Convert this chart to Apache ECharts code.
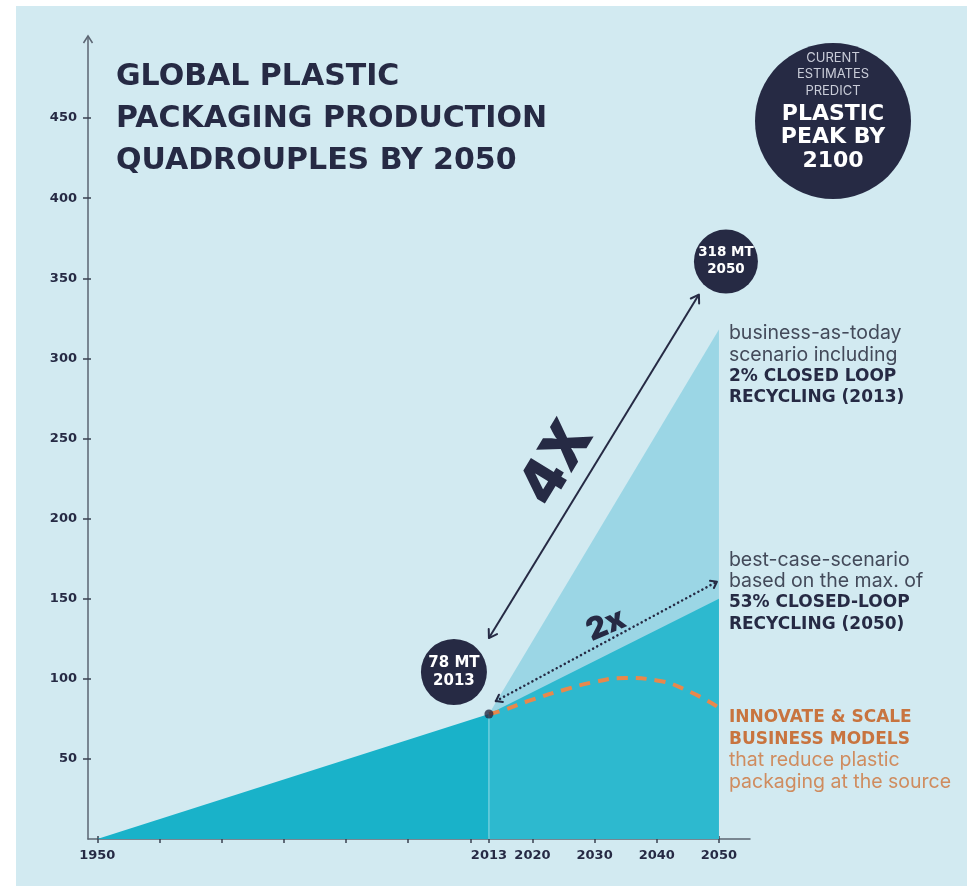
<!DOCTYPE html>
<html><head><meta charset="utf-8">
<script src="https://cdn.jsdelivr.net/npm/echarts@6/dist/echarts.min.js"></script>
<style>
html,body{margin:0;padding:0;background:#fff;width:967px;height:886px;overflow:hidden;}
#bg{position:absolute;left:16px;top:6px;right:0;bottom:0;background:#d2eaf1;}
#c{position:absolute;left:0;top:0;width:967px;height:886px;}
</style></head><body><div id="bg"></div><div id="c"></div>
<script>
// ---- data ----
const historyYears = [1950, 2013];
const historyValues = [0, 78];
const scenarioYears = [2013, 2050];
const businessAsTodayValues = [78, 318];
const bestCaseValues = [78, 150];
const innovateYears = [2013, 2015, 2020, 2025, 2030, 2035, 2040, 2045, 2050];
const innovateValues = [78, 80, 87, 93, 98, 100.5, 99, 92.5, 82];
const xTickValues = [1950, 1960, 1970, 1980, 1990, 2000, 2010, 2013, 2020, 2030, 2040, 2050];
const xLabelValues = [1950, 2013, 2020, 2030, 2040, 2050];
const yTickValues = [50, 100, 150, 200, 250, 300, 350, 400, 450];
const titleLines = ['GLOBAL PLASTIC', 'PACKAGING PRODUCTION', 'QUADROUPLES BY 2050'];

const navy = '#262a44';
const FONT = 'Inter, "Noto Sans", sans-serif';
const WIDE = '"DejaVu Sans", Inter, sans-serif';
const zip = (xs, ys) => xs.map((x, i) => [x, ys[i]]);

const baseX = {
  type: 'value', min: 1948.5, max: 2055, splitLine: { show: false }
};
const baseY = {
  type: 'value', min: 0, max: 500, splitLine: { show: false }
};

const option = {
  animation: false,
  backgroundColor: 'transparent',
  grid: { left: 88, right: 217, top: 38, bottom: 47, containLabel: false },
  xAxis: [
    Object.assign({}, baseX, {
      axisLine: { show: true, lineStyle: { color: '#5b6572', width: 1.5 } },
      axisTick: { show: true, customValues: xTickValues, length: 4, lineStyle: { color: '#3a4150', width: 1.5 } },
      axisLabel: { show: true, customValues: xLabelValues, formatter: v => String(v), color: navy, fontFamily: WIDE, fontWeight: 'bold', fontSize: 13, margin: 10 }
    }),
    Object.assign({}, baseX, {
      position: 'bottom',
      axisLine: { show: false },
      axisTick: { show: true, inside: true, customValues: xTickValues, length: 3, lineStyle: { color: '#3a4150', width: 1.5 } },
      axisLabel: { show: false }
    })
  ],
  yAxis: [
    Object.assign({}, baseY, {
      axisLine: { show: true, lineStyle: { color: '#5b6572', width: 1.5 } },
      axisTick: { show: true, customValues: yTickValues, length: 5, lineStyle: { color: '#3a4150', width: 1.5 } },
      axisLabel: { show: true, customValues: yTickValues, formatter: v => String(v), color: navy, fontFamily: WIDE, fontWeight: 'bold', fontSize: 13, margin: 11 }
    }),
    Object.assign({}, baseY, {
      position: 'left',
      axisLine: { show: false },
      axisTick: { show: true, inside: true, customValues: yTickValues, length: 3, lineStyle: { color: '#3a4150', width: 1.5 } },
      axisLabel: { show: false }
    })
  ],
  series: [
    { name: 'history', type: 'line', data: zip(historyYears, historyValues), showSymbol: false,
      lineStyle: { width: 0 }, areaStyle: { color: '#19b2c9', opacity: 1 }, z: 2 },
    { name: 'business-as-today', type: 'line', data: zip(scenarioYears, businessAsTodayValues), showSymbol: false,
      lineStyle: { width: 0 }, areaStyle: { color: '#9bd6e5', opacity: 1 }, z: 2 },
    { name: 'best-case', type: 'line', data: zip(scenarioYears, bestCaseValues), showSymbol: false,
      lineStyle: { width: 0 }, areaStyle: { color: '#2db9cf', opacity: 1 }, z: 3 },
    { name: 'divider', type: 'line', data: [[historyYears[1], 0], [historyYears[1], historyValues[1]]], showSymbol: false,
      lineStyle: { width: 1.5, color: 'rgba(255,255,255,0.3)' }, z: 4 },
    { name: 'innovate', type: 'line', data: zip(innovateYears, innovateValues), smooth: true, showSymbol: false,
      lineStyle: { width: 4, color: '#e8884c', type: [11, 8] }, z: 5 },
    { name: 'point2013', type: 'scatter', data: [[historyYears[1], historyValues[1]]], symbolSize: 9,
      itemStyle: { color: navy }, z: 6 }
  ]
};

const chart = echarts.init(document.getElementById('c'), null, { renderer: 'canvas' });
chart.setOption(option);

const P = (x, y) => chart.convertToPixel({ xAxisIndex: 0, yAxisIndex: 0 }, [x, y]);

function text(x, y, str, font, fill, align, extra) {
  return Object.assign({ type: 'text', x: x, y: y, z: 100,
    style: { text: str, font: font, fill: fill, textAlign: align || 'left', align: align || 'left',
      textVerticalAlign: 'middle', verticalAlign: 'middle' } }, extra || {});
}
function head(tip, from, len, ang, width) {
  const dx = from[0] - tip[0], dy = from[1] - tip[1];
  const d = Math.hypot(dx, dy), ux = dx / d, uy = dy / d;
  const c = Math.cos(ang), s = Math.sin(ang);
  const a = [tip[0] + len * (ux * c - uy * s), tip[1] + len * (ux * s + uy * c)];
  const b = [tip[0] + len * (ux * c + uy * s), tip[1] + len * (-ux * s + uy * c)];
  return { type: 'polyline', z: 90, shape: { points: [a, tip, b] },
    style: { stroke: navy, lineWidth: width || 2, fill: null, lineCap: 'round', lineJoin: 'round' } };
}

const g = [];
// y-axis arrow head
const yTop = P(1948.5, 500);
g.push({ type: 'polyline', z: 90, shape: { points: [[yTop[0] - 4.5, yTop[1] + 5], [yTop[0], yTop[1] - 2], [yTop[0] + 4.5, yTop[1] + 5]] },
  style: { stroke: '#5b6572', lineWidth: 1.5, fill: null } });

// title
titleLines.forEach((t, i) => g.push(text(116, 77 + i * 42, t, 'bold 30px ' + WIDE, navy, 'left')));

// top-right badge
g.push({ type: 'circle', z: 80, shape: { cx: 833, cy: 121, r: 78 }, style: { fill: navy } });
['CURENT', 'ESTIMATES', 'PREDICT'].forEach((t, i) => g.push(text(833, 58 + i * 16.5, t, '400 13px ' + FONT, '#c9ccd8', 'center')));
['PLASTIC', 'PEAK BY', '2100'].forEach((t, i) => g.push(text(833, 114 + i * 23.5, t, 'bold 22px ' + WIDE, '#ffffff', 'center')));

// anchor points from data
const p2013 = P(historyYears[1], historyValues[1]);
const pBau = P(scenarioYears[1], businessAsTodayValues[1]);
const pBest = P(scenarioYears[1], bestCaseValues[1]);
const pInn = P(innovateYears[innovateYears.length - 1], innovateValues[innovateValues.length - 1]);

// 78 MT badge
const c1 = [p2013[0] - 35, p2013[1] - 42];
g.push({ type: 'circle', z: 80, shape: { cx: c1[0], cy: c1[1], r: 33 }, style: { fill: navy } });
g.push(text(c1[0], c1[1] - 9, '78 MT', 'bold 15px ' + WIDE, '#fff', 'center'));
g.push(text(c1[0], c1[1] + 9, '2013', 'bold 15px ' + WIDE, '#fff', 'center'));
// 318 MT badge
const c2 = [pBau[0] + 7, pBau[1] - 68];
g.push({ type: 'circle', z: 80, shape: { cx: c2[0], cy: c2[1], r: 32 }, style: { fill: navy } });
g.push(text(c2[0], c2[1] - 9, '318 MT', 'bold 13.5px ' + WIDE, '#fff', 'center'));
g.push(text(c2[0], c2[1] + 8, '2050', 'bold 13.5px ' + WIDE, '#fff', 'center'));

// 4x arrow
const a1 = [p2013[0], p2013[1] - 76], a2 = [pBau[0] - 20, pBau[1] - 35];
g.push({ type: 'line', z: 90, shape: { x1: a1[0], y1: a1[1], x2: a2[0], y2: a2[1] }, style: { stroke: navy, lineWidth: 2 } });
g.push(head(a1, a2, 9, Math.PI / 5.5));
g.push(head(a2, a1, 9, Math.PI / 5.5));
const ang4 = Math.atan2(a1[1] - a2[1], a2[0] - a1[0]);
g.push(text(557, 463, '4X', '900 58px ' + FONT, navy, 'center', { rotation: ang4 }));

// 2x dotted arrow
const b1 = [p2013[0] + 7, p2013[1] - 13], b2 = [pBest[0] - 2, pBest[1] - 17];
g.push({ type: 'line', z: 90, shape: { x1: b1[0], y1: b1[1], x2: b2[0], y2: b2[1] },
  style: { stroke: navy, lineWidth: 2.5, lineDash: [0.1, 4.5], lineCap: 'round' } });
g.push(head(b1, b2, 7, Math.PI / 5));
g.push(head(b2, b1, 7, Math.PI / 5));
g.push(text(606, 625, '2x', '900 31px ' + FONT, navy, 'center', { rotation: 0.4 }));

// right-hand annotations
const tx = pBau[0] + 10;
const grey = '#434a5a';
const REG = '400 19.5px ' + FONT;
const BOLD = 'bold 17px ' + WIDE;
const l1 = pBau[1] + 4;
g.push(text(tx, l1, 'business-as-today', REG, grey));
g.push(text(tx, l1 + 21.5, 'scenario including', REG, grey));
g.push(text(tx, l1 + 43, '2% CLOSED LOOP', BOLD, navy));
g.push(text(tx, l1 + 64.5, 'RECYCLING (2013)', BOLD, navy));
const l2 = pBest[1] - 39;
g.push(text(tx, l2, 'best-case-scenario', REG, grey));
g.push(text(tx, l2 + 21.5, 'based on the max. of', REG, grey));
g.push(text(tx, l2 + 43, '53% CLOSED-LOOP', BOLD, navy));
g.push(text(tx, l2 + 64.5, 'RECYCLING (2050)', BOLD, navy));
const l3 = pInn[1] + 10;
g.push(text(tx, l3, 'INNOVATE & SCALE', BOLD, '#c8743f'));
g.push(text(tx, l3 + 21.5, 'BUSINESS MODELS', BOLD, '#c8743f'));
g.push(text(tx, l3 + 43, 'that reduce plastic', REG, '#cf8c5f'));
g.push(text(tx, l3 + 64.5, 'packaging at the source', REG, '#cf8c5f'));

chart.setOption({ graphic: { elements: g } });
</script></body></html>
